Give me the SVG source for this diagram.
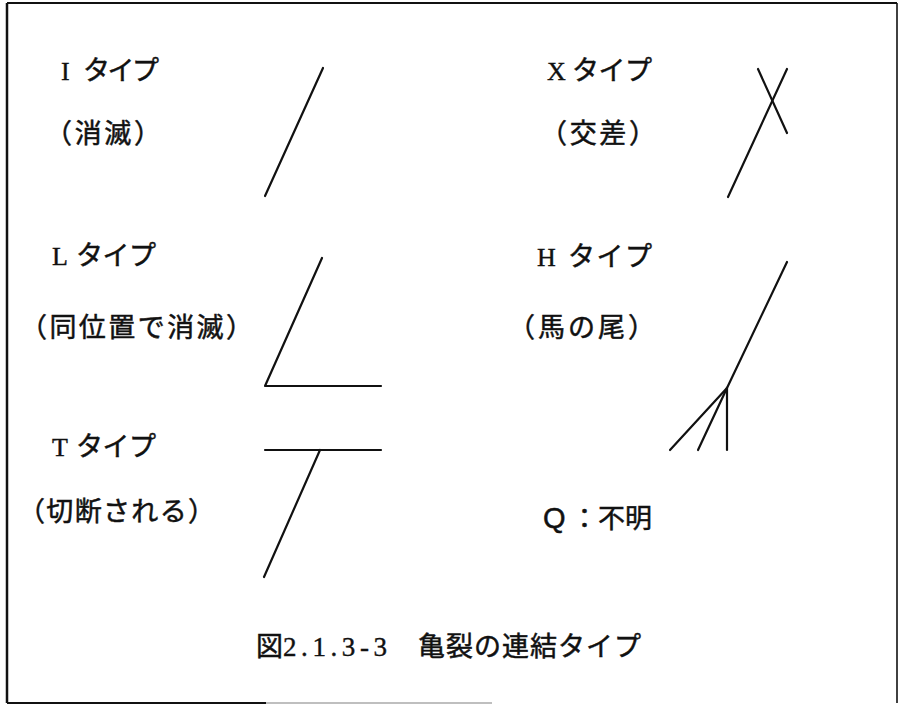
<svg xmlns="http://www.w3.org/2000/svg" width="902" height="706" viewBox="0 0 902 706">
<style>
.t{font-family:"Liberation Serif","Noto Sans CJK JP",serif;font-size:26px;fill:#111;stroke:#111;stroke-width:0.4}
.j{font-family:"Noto Sans CJK JP",sans-serif;font-size:27px;fill:#111;stroke:#111;stroke-width:0.5}
.ln{stroke:#111;stroke-width:2.2;fill:none;stroke-linecap:round;stroke-linejoin:round}
</style>
<rect x="0" y="0" width="902" height="706" fill="#fff"/>
<g id="frame">
<path d="M7,3 H897" stroke="#111" stroke-width="2.2" fill="none"/>
<path d="M7,3 V703" stroke="#111" stroke-width="2.5" fill="none"/>
<path d="M897,3 V703" stroke="#111" stroke-width="1.6" fill="none"/>
<path d="M7,703 H266" stroke="#111" stroke-width="2" fill="none"/>
<path d="M266,703 H492" stroke="#aaa" stroke-width="1.5" fill="none"/>
</g>
<g id="node-I">
<text class="t" x="61" y="80">I<tspan class="j" x="83" textLength="76" lengthAdjust="spacing">タイプ</tspan></text>
<text class="j" x="45" y="143" textLength="116" lengthAdjust="spacing">（消滅）</text>
<path class="ln" d="M323,68 L265,196"/>
</g>
<g id="node-X">
<text class="t" x="547" y="80">X<tspan class="j" x="572" textLength="80" lengthAdjust="spacing">タイプ</tspan></text>
<text class="j" x="540" y="143" textLength="116" lengthAdjust="spacing">（交差）</text>
<path class="ln" d="M787,69 L728,197"/>
<path class="ln" d="M758,69 L787,133"/>
</g>
<g id="node-L">
<text class="t" x="52" y="265">L<tspan class="j" x="76" textLength="80" lengthAdjust="spacing">タイプ</tspan></text>
<text class="j" x="20" y="337" textLength="233" lengthAdjust="spacing">（同位置で消滅）</text>
<path class="ln" d="M322,258 L265,386 L381,386"/>
</g>
<g id="node-H">
<text class="t" x="537" y="266">H<tspan class="j" x="568" textLength="84" lengthAdjust="spacing">タイプ</tspan></text>
<text class="j" x="508" y="337" textLength="147" lengthAdjust="spacing">（馬の尾）</text>
<path class="ln" d="M787,262 L727,388"/>
<path class="ln" d="M727,388 L727,450"/>
<path class="ln" d="M727,388 L698,450"/>
<path class="ln" d="M727,388 L670,450"/>
</g>
<g id="node-T">
<text class="t" x="52" y="456">T<tspan class="j" x="76" textLength="80" lengthAdjust="spacing">タイプ</tspan></text>
<text class="j" x="18" y="521" textLength="197" lengthAdjust="spacing">（切断される）</text>
<path class="ln" d="M265,450 L381,450"/>
<path class="ln" d="M320,450 L264,577"/>
</g>
<g id="node-Q">
<text class="j" x="543" y="528" style="font-size:27px"><tspan style="font-family:'Liberation Sans',sans-serif;font-size:29px">Q</tspan><tspan x="571">：不明</tspan></text>
</g>
<g id="caption">
<text class="t" y="656"><tspan class="j" x="256">図</tspan><tspan x="283" style="font-size:27px" textLength="104" lengthAdjust="spacing">2.1.3-3</tspan><tspan class="j" x="418" textLength="223" lengthAdjust="spacing">亀裂の連結タイプ</tspan></text>
</g>
<g id="connectors"></g>
</svg>
